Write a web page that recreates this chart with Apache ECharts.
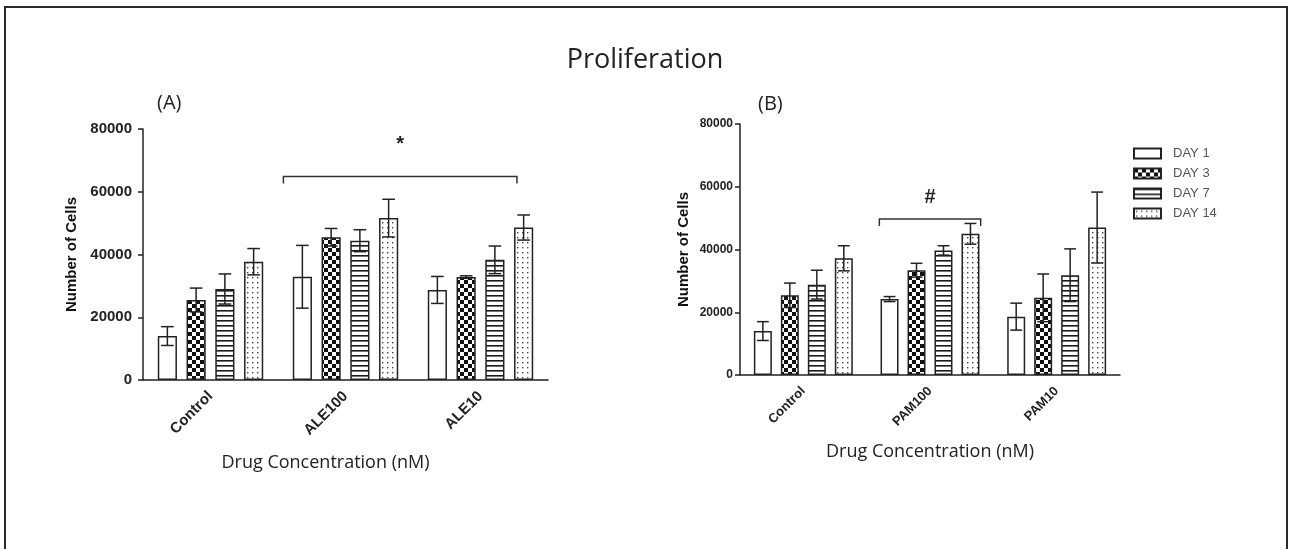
<!DOCTYPE html>
<html>
<head>
<meta charset="utf-8">
<script src="https://cdn.jsdelivr.net/npm/echarts@6/dist/echarts.min.js"></script>
<style>
html,body{margin:0;padding:0;background:#fff;overflow:hidden;}
#frame{position:absolute;left:4px;top:6px;width:1284px;height:600px;border:2px solid #2a2a2a;box-sizing:border-box;}
#chart{position:absolute;left:0;top:0;width:1290px;height:549px;}
</style>
</head>
<body>
<div id="frame"></div>
<div id="chart"></div>
<script>
// ---------- data ----------
const days = ['DAY 1', 'DAY 3', 'DAY 7', 'DAY 14'];
const categoriesA = ['Control', 'ALE100', 'ALE10'];
const categoriesB = ['Control', 'PAM100', 'PAM10'];
const yTicks = [0, 20000, 40000, 60000, 80000];

const meanA_day1  = [14000, 32900, 28700];
const meanA_day3  = [25500, 45500, 32800];
const meanA_day7  = [29000, 44400, 38300];
const meanA_day14 = [37700, 51600, 48600];
const errA_day1  = [3000, 10000, 4300];
const errA_day3  = [3800, 2800, 400];
const errA_day7  = [4800, 3500, 4400];
const errA_day14 = [4200, 6000, 4000];

const meanB_day1  = [14000, 24200, 18600];
const meanB_day3  = [25400, 33400, 24600];
const meanB_day7  = [28800, 39700, 31800];
const meanB_day14 = [37200, 45000, 47000];
const errB_day1  = [3000, 800, 4300];
const errB_day3  = [3900, 2200, 7600];
const errB_day7  = [4600, 1500, 8400];
const errB_day14 = [4000, 3300, 11300];

// significance brackets: [startCategory, startFraction, endCategory, endFraction, bracketValue, markValue]
const bracketA = [1, -0.46, 2, 0.27, 64900, 75000];
const bracketB = [1, -0.40, 1, 0.40, 49700, 56500];
const markA = '*';
const markB = '#';

// ---------- patterns ----------
function mkCanvas(w, h, draw) {
  const c = document.createElement('canvas');
  c.width = w; c.height = h;
  const ctx = c.getContext('2d');
  ctx.fillStyle = '#fff'; ctx.fillRect(0, 0, w, h);
  draw(ctx);
  return c;
}
const checker = mkCanvas(8, 8, ctx => {
  ctx.fillStyle = '#111';
  ctx.fillRect(0, 0, 4, 4); ctx.fillRect(4, 4, 4, 4);
});
const stripes = mkCanvas(4, 5, ctx => {
  ctx.fillStyle = '#1a1a1a';
  ctx.fillRect(0, 0, 4, 1.6);
});
const dots = mkCanvas(5, 5, ctx => {
  ctx.fillStyle = '#444';
  ctx.fillRect(2, 2, 1.4, 1.4);
});
const fills = ['#ffffff',
  {image: checker, repeat: 'repeat'},
  {image: stripes, repeat: 'repeat'},
  {image: dots, repeat: 'repeat'}];

const meansA = [meanA_day1, meanA_day3, meanA_day7, meanA_day14];
const errsA = [errA_day1, errA_day3, errA_day7, errA_day14];
const meansB = [meanB_day1, meanB_day3, meanB_day7, meanB_day14];
const errsB = [errB_day1, errB_day3, errB_day7, errB_day14];

const BW = 0.142; // bar width fraction of band
const GAP = 0.5;

function barSeries(means, axisIdx) {
  return means.map((m, i) => ({
    name: days[i],
    type: 'bar',
    xAxisIndex: axisIdx, yAxisIndex: axisIdx,
    barWidth: (BW * 100) + '%',
    barGap: (GAP * 100) + '%',
    data: m,
    itemStyle: {color: fills[i], borderColor: '#222', borderWidth: 1.5},
    emphasis: {disabled: true},
    z: 2
  }));
}

function errorSeries(means, errs, axisIdx) {
  const data = [];
  means.forEach((m, d) => m.forEach((v, c) => data.push([c, v, errs[d][c], d])));
  return {
    type: 'custom',
    xAxisIndex: axisIdx, yAxisIndex: axisIdx,
    data: data,
    encode: {x: 0, y: 1},
    z: 5,
    silent: true,
    renderItem: function (params, api) {
      const c = api.value(0), v = api.value(1), e = api.value(2), d = api.value(3);
      const band = api.size([1, 0])[0];
      const w = band * BW;
      const off = (-(4 + 3 * GAP) / 2 + 0.5 + d * (1 + GAP)) * w;
      const t = api.coord([c, v + e]);
      const b = api.coord([c, v - e]);
      const x = t[0] + off;
      const h = w * 0.33;
      const st = {stroke: '#222', lineWidth: 1.5, fill: null};
      return {type: 'group', children: [
        {type: 'line', shape: {x1: x, y1: t[1], x2: x, y2: b[1]}, style: st},
        {type: 'line', shape: {x1: x - h, y1: t[1], x2: x + h, y2: t[1]}, style: st},
        {type: 'line', shape: {x1: x - h, y1: b[1], x2: x + h, y2: b[1]}, style: st}
      ]};
    }
  };
}

function bracketSeries(br, mark, axisIdx, fontSize) {
  return {
    type: 'custom',
    xAxisIndex: axisIdx, yAxisIndex: axisIdx,
    data: [br],
    encode: {x: 0, y: 4},
    z: 6,
    silent: true,
    renderItem: function (params, api) {
      const band = api.size([1, 0])[0];
      const p0 = api.coord([api.value(0), api.value(4)]);
      const p1 = api.coord([api.value(2), api.value(4)]);
      const pm = api.coord([api.value(0), api.value(5)]);
      const x0 = p0[0] + api.value(1) * band;
      const x1 = p1[0] + api.value(3) * band;
      const y = p0[1];
      return {type: 'group', children: [
        {type: 'polyline', shape: {points: [[x0, y + 7], [x0, y], [x1, y], [x1, y + 7]]},
          style: {stroke: '#333', lineWidth: 1.5, fill: null}},
        {type: 'text', style: {x: (x0 + x1) / 2, y: pm[1], text: mark, align: 'center', verticalAlign: 'middle',
          font: 'bold ' + fontSize + 'px "Liberation Sans", Arial, sans-serif', fill: '#222'}}
      ]};
    }
  };
}

const axisLineStyle = {lineStyle: {color: '#222', width: 1.5}};

function xAxisDef(cats, idx, labelSize, nameGap, namePad) {
  return {
    type: 'category', gridIndex: idx, data: cats,
    axisLine: axisLineStyle,
    axisTick: {alignWithLabel: true, length: 6, lineStyle: {color: '#222', width: 1.5}},
    axisLabel: {rotate: 45, margin: 14, fontSize: labelSize, fontWeight: 'bold', color: '#222',
      fontFamily: '"Liberation Sans", Arial, sans-serif', interval: 0},
    name: 'Drug Concentration (nM)', nameLocation: 'middle', nameGap: nameGap,
    nameTextStyle: {fontSize: 18, color: '#222', fontFamily: '"Open Sans", sans-serif', padding: namePad}
  };
}
function yAxisDef(idx, labelSize, labelMargin, nameSize, nameGap) {
  return {
    type: 'value', gridIndex: idx, min: yTicks[0], max: yTicks[yTicks.length - 1], interval: yTicks[1] - yTicks[0],
    axisLine: {show: true, lineStyle: {color: '#222', width: 1.5}},
    axisTick: {show: true, length: 5, lineStyle: {color: '#222', width: 1.5}},
    splitLine: {show: false},
    axisLabel: {fontSize: labelSize, fontWeight: 'bold', color: '#222', margin: labelMargin,
      fontFamily: '"Liberation Sans", Arial, sans-serif', formatter: v => String(v)},
    name: 'Number of Cells', nameLocation: 'middle', nameGap: nameGap,
    nameTextStyle: {fontSize: nameSize, fontWeight: 'bold', color: '#111', fontFamily: '"Liberation Sans", Arial, sans-serif'}
  };
}

const chart = echarts.init(document.getElementById('chart'), null, {renderer: 'canvas'});
chart.setOption({
  animation: false,
  backgroundColor: 'transparent',
  title: [
    {text: 'Proliferation', left: 'center', top: 47, padding: 0,
      textStyle: {fontSize: 27, fontWeight: 'normal', color: '#222', fontFamily: '"Open Sans", sans-serif'}},
    {text: '(A)', left: 157, top: 93, padding: 0,
      textStyle: {fontSize: 20, fontWeight: 'normal', color: '#222', fontFamily: '"Open Sans", sans-serif'}},
    {text: '(B)', left: 758, top: 94, padding: 0,
      textStyle: {fontSize: 20, fontWeight: 'normal', color: '#222', fontFamily: '"Open Sans", sans-serif'}}
  ],
  legend: {
    data: days, orient: 'vertical', left: 1133, top: 147, icon: 'rect', padding: 0,
    itemWidth: 27, itemHeight: 10, itemGap: 7, selectedMode: false,
    textStyle: {fontSize: 13, color: '#555', fontFamily: '"Liberation Sans", Arial, sans-serif', padding: [0, 0, 0, 7]}
  },
  grid: [
    {left: 143, top: 129, width: 405, height: 251},
    {left: 740, top: 124, width: 380, height: 251}
  ],
  xAxis: [xAxisDef(categoriesA, 0, 15, 74, [0, 40, 0, 0]), xAxisDef(categoriesB, 1, 13, 68, 0)],
  yAxis: [yAxisDef(0, 15, 11, 15, 64), yAxisDef(1, 12, 7, 15, 49)],
  series: [
    ...barSeries(meansA, 0),
    ...barSeries(meansB, 1),
    errorSeries(meansA, errsA, 0),
    errorSeries(meansB, errsB, 1),
    bracketSeries(bracketA, markA, 0, 20),
    bracketSeries(bracketB, markB, 1, 20)
  ]
});
</script>
</body>
</html>
